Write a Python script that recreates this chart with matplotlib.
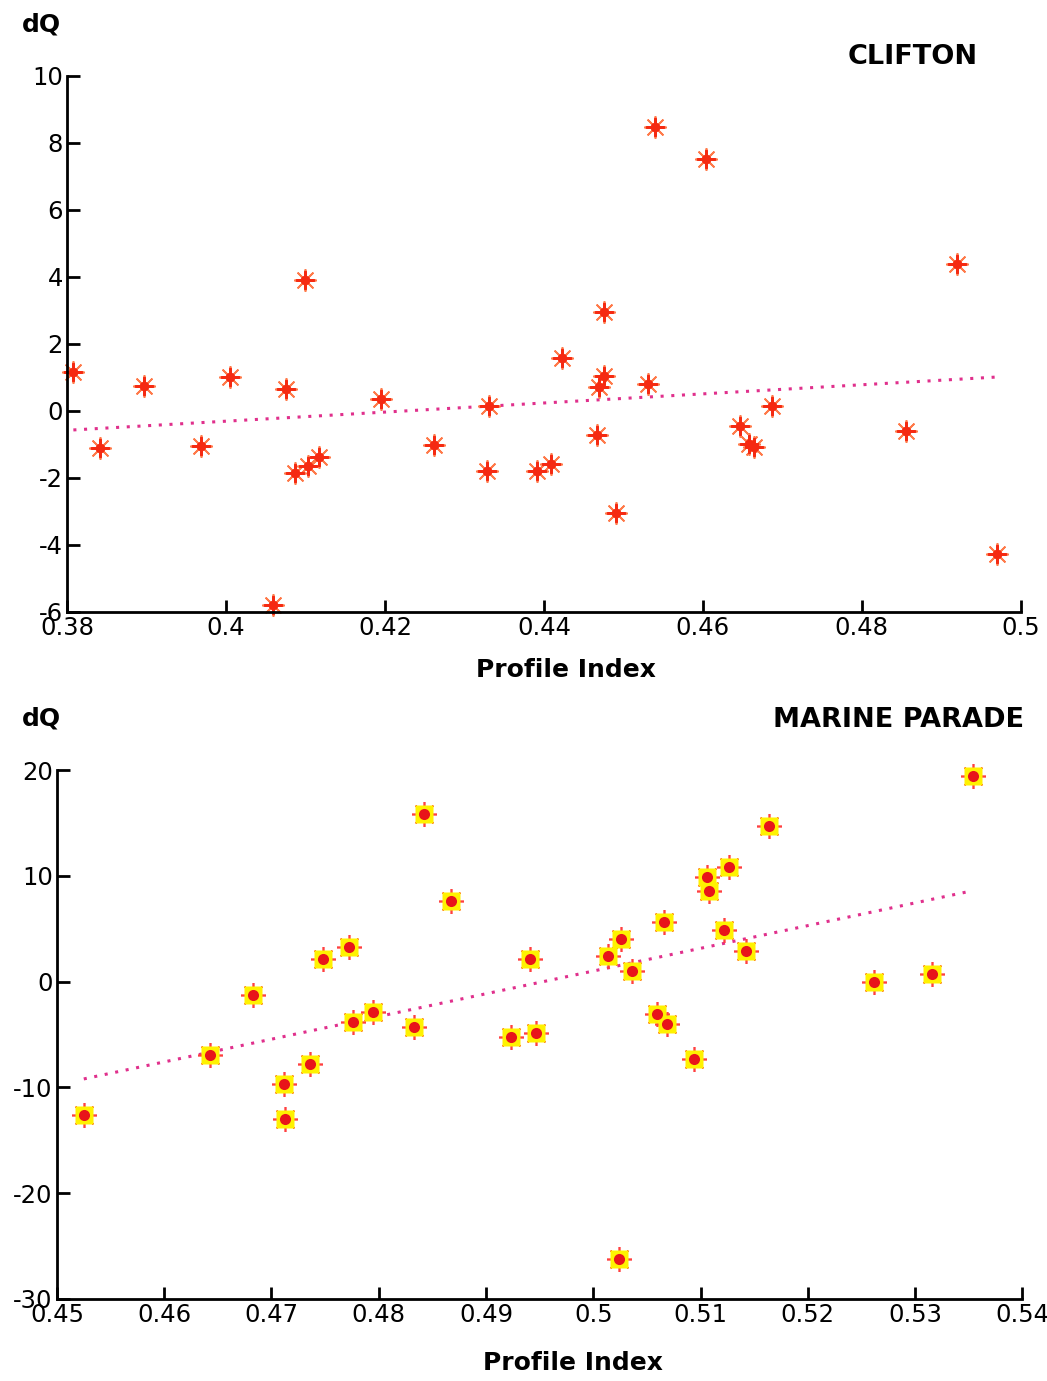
import numpy as np
import matplotlib
matplotlib.use('Agg')
import matplotlib.pyplot as plt

#%% data - Clifton
clifton_pi = [0.3808, 0.3842, 0.3897, 0.3969, 0.4005, 0.4059, 0.4075, 0.4087, 0.4099,
              0.4103, 0.4117, 0.4195, 0.4262, 0.4328, 0.4331, 0.4391, 0.4409, 0.4423,
              0.4467, 0.4469, 0.4475, 0.4475, 0.4491, 0.4531, 0.4540, 0.4604, 0.4647,
              0.4658, 0.4664, 0.4687, 0.4855, 0.4920, 0.4970]
clifton_dq = [1.16, -1.1, 0.75, -1.05, 1.01, -5.8, 0.66, -1.85, 3.91,
              -1.64, -1.37, 0.36, -1.01, -1.79, 0.15, -1.79, -1.58, 1.58,
              -0.72, 0.72, 1.04, 2.96, -3.04, 0.81, 8.48, 7.52, -0.45,
              -0.99, -1.07, 0.15, -0.6, 4.39, -4.27]
clifton_fit = [-0.57, 1.01]   # trend line value at first / last profile index

#%% data - Marine Parade
marine_pi = [0.4525, 0.4643, 0.4683, 0.4712, 0.4713, 0.4736, 0.4748, 0.4772, 0.4776,
             0.4795, 0.4833, 0.4842, 0.4867, 0.4923, 0.4941, 0.4947, 0.5014, 0.5024,
             0.5026, 0.5036, 0.5059, 0.5066, 0.5069, 0.5094, 0.5106, 0.5108, 0.5122,
             0.5127, 0.5142, 0.5164, 0.5262, 0.5316, 0.5354]
marine_dq = [-12.6, -6.9, -1.3, -9.7, -13.0, -7.75, 2.1, 3.3, -3.8,
             -2.9, -4.25, 15.8, 7.6, -5.2, 2.1, -4.9, 2.4, -26.2,
             4.0, 1.0, -3.1, 5.6, -4.0, -7.3, 9.9, 8.6, 4.9,
             10.8, 2.9, 14.7, 0.0, 0.76, 19.4]
marine_fit = [-9.2, 8.6]

top_ticks_x = [0.38, 0.4, 0.42, 0.44, 0.46, 0.48, 0.5]
top_ticks_y = [-6, -4, -2, 0, 2, 4, 6, 8, 10]
bot_ticks_x = [0.45, 0.46, 0.47, 0.48, 0.49, 0.5, 0.51, 0.52, 0.53, 0.54]
bot_ticks_y = [-30, -20, -10, 0, 10, 20]

plt.rcParams['font.family'] = ['DejaVu Sans']
red = '#f52a12'
pink = '#e0308c'


def style_axes(ax):
    for s in ['top', 'right']:
        ax.spines[s].set_visible(False)
    for s in ['left', 'bottom']:
        ax.spines[s].set_linewidth(2)
    ax.tick_params(direction='in', length=9, width=2, labelsize=17.5, pad=3)


fig = plt.figure(figsize=(10.47, 13.81), dpi=100)

#%% top panel
ax1 = fig.add_axes([0.064, 0.557, 0.911, 0.388])
ax1.plot([min(clifton_pi), max(clifton_pi)], clifton_fit, color=pink, lw=2.2,
         linestyle=(0, (1, 2.5)))
ax1.plot(clifton_pi, clifton_dq, linestyle='none', marker=(8, 2, 0), ms=16,
         mec='#ff7a4a', mew=1.3)
ax1.plot(clifton_pi, clifton_dq, linestyle='none', marker=(4, 2, 0), ms=13,
         mec=red, mew=2)
ax1.plot(clifton_pi, clifton_dq, linestyle='none', marker='o', ms=6, mfc=red, mec=red)
ax1.set_xlim(0.38, 0.5)
ax1.set_ylim(-6, 10)
ax1.set_xticks(top_ticks_x)
ax1.set_xticklabels(['0.38', '0.4', '0.42', '0.44', '0.46', '0.48', '0.5'])
ax1.set_yticks(top_ticks_y)
ax1.set_yticklabels([str(v) for v in top_ticks_y])
style_axes(ax1)
for ln in ax1.lines:
    ln.set_clip_on(False)
ax1.set_xlabel('Profile Index', fontsize=18, fontweight='bold')
ax1.xaxis.set_label_coords(0.523, -0.086)
fig.text(0.021, 0.982, 'dQ', fontsize=18, fontweight='bold', va='center')
fig.text(0.81, 0.959, 'CLIFTON', fontsize=19.5, fontweight='bold', va='center')

#%% bottom panel
ax2 = fig.add_axes([0.0544, 0.0594, 0.922, 0.383])
ax2.plot([min(marine_pi), max(marine_pi)], marine_fit, color=pink, lw=2.2,
         linestyle=(0, (1, 2.5)))
ax2.plot(marine_pi, marine_dq, linestyle='none', marker=(8, 2, 0), ms=18,
         mec='#ff4040', mew=1.2)
ax2.plot(marine_pi, marine_dq, linestyle='none', marker='s', ms=13,
         mfc='#fff200', mec='none')
ax2.plot(marine_pi, marine_dq, linestyle='none', marker='o', ms=8, mfc='#e8141a', mec='none')
ax2.set_xlim(0.45, 0.54)
ax2.set_ylim(-30, 20)
ax2.set_xticks(bot_ticks_x)
ax2.set_xticklabels(['0.45', '0.46', '0.47', '0.48', '0.49', '0.5', '0.51', '0.52', '0.53', '0.54'])
ax2.set_yticks(bot_ticks_y)
ax2.set_yticklabels([str(v) for v in bot_ticks_y])
style_axes(ax2)
for ln in ax2.lines:
    ln.set_clip_on(False)
ax2.set_xlabel('Profile Index', fontsize=18, fontweight='bold')
ax2.xaxis.set_label_coords(0.535, -0.098)
fig.text(0.021, 0.48, 'dQ', fontsize=18, fontweight='bold', va='center')
fig.text(0.738, 0.479, 'MARINE PARADE', fontsize=19.5, fontweight='bold', va='center')

fig.savefig('out.png', dpi=100, facecolor='white')
